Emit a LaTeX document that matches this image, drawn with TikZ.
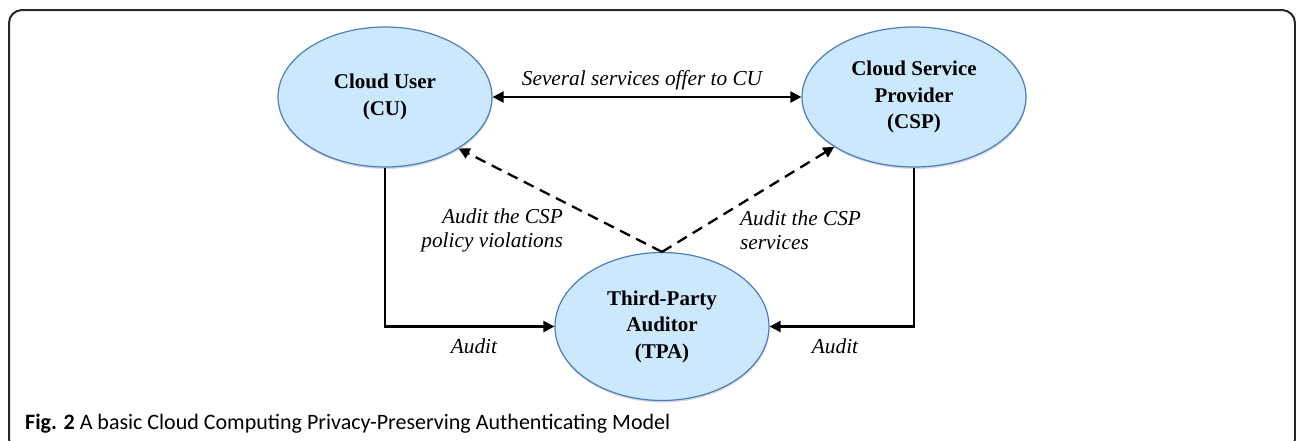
\documentclass[tikz,border=0pt]{standalone}
\usepackage{fontspec}
\setmainfont{Liberation Serif}
\newfontfamily\capfont{Carlito}
\usetikzlibrary{arrows.meta,shapes.geometric,shadows}
\definecolor{fillblue}{RGB}{204,232,252}
\definecolor{edgeblue}{RGB}{74,126,193}
\begin{document}
\begin{tikzpicture}[x=1pt,y=-1pt,
  party/.style={ellipse, draw=edgeblue, line width=1.2pt, fill=fillblue,
    inner sep=0pt, align=center,
    font=\fontsize{21}{26.5}\selectfont\bfseries,
    drop shadow={shadow xshift=0.5pt, shadow yshift=-2pt, opacity=0.25, fill=black!60}},
  link/.style={line width=2.3pt, -{Triangle[length=11pt,width=11pt]}},
  twoway/.style={line width=2.3pt, {Triangle[length=11pt,width=11pt]}-{Triangle[length=11pt,width=11pt]}},
  auditlink/.style={link, dash pattern=on 11pt off 7pt},
  lbl/.style={font=\fontsize{21.3}{24}\selectfont\itshape, inner sep=0pt}
]
\useasboundingbox (0,0) rectangle (1296,440);

% outer frame
\draw[line width=2pt, rounded corners=13pt, draw=black!85] (9,10) rectangle (1295,452);

% parties
\node[party, minimum width=214pt, minimum height=140pt] (cu) at (385,97) {Cloud User\\(CU)};
\node[party, minimum width=224pt, minimum height=140pt] (csp) at (914,97) {Cloud Service\\Provider\\(CSP)};
\node[party, minimum width=214pt, minimum height=148pt] (tpa) at (662,326.5) {Third-Party\\Auditor\\(TPA)};

% connectors
\draw[twoway] (cu) -- (csp);
\draw[link] (cu.south) |- (tpa.west);
\draw[link] (csp.south) |- (tpa.east);
\draw[auditlink] (tpa.north) -- (cu.-35);
\draw[auditlink] (tpa.north) -- (csp.-148);

% labels
\node[lbl, anchor=base] (offer) at (642,85) {Several services offer to CU};
\node[lbl, anchor=east, align=right] (viol) at (563,230) {Audit the CSP\\policy violations};
\node[lbl, anchor=west, align=left] (serv) at (740,230) {Audit the CSP\\services};
\node[lbl, anchor=base] (auditl) at (474,353) {Audit};
\node[lbl, anchor=base] (auditr) at (835,353) {Audit};

% caption
\node[anchor=base west, inner sep=0pt, font=\capfont\fontsize{22}{26}\selectfont] (cap) at (25,429)
  {\textbf{Fig. 2} A basic Cloud Computing Privacy-Preserving Authenticating Model};
\end{tikzpicture}
\end{document}
